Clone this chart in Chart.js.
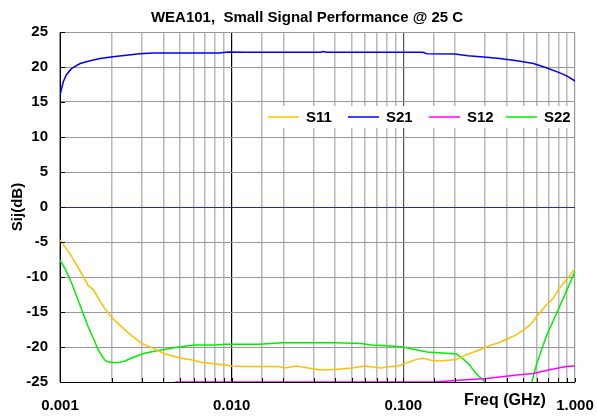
<!DOCTYPE html>
<html>
<head>
<meta charset="utf-8">
<script src="https://cdn.jsdelivr.net/npm/chart.js@4.4.1/dist/chart.umd.min.js"></script>
<style>
  html, body { margin: 0; padding: 0; background: #ffffff; }
  #wrap { width: 597px; height: 419px; position: relative; }
</style>
</head>
<body>
<div id="wrap"><canvas id="c" width="597" height="419"></canvas></div>
<script>
// ---- Data ----
const chartTitle = 'WEA101,  Small Signal Performance @ 25 C';
const xTitle = 'Freq (GHz)';
const yTitle = 'Sij(dB)';
const seriesNames = ['S11', 'S21', 'S12', 'S22'];
const seriesColors = ['#FFC000', '#0000FF', '#FF00FF', '#00EE00'];
const xTickLabels = ['0.001', '0.010', '0.100', '1.000'];
const yTicks = [-25, -20, -15, -10, -5, 0, 5, 10, 15, 20, 25];

const s11Freq = [0.001, 0.00107, 0.00117, 0.0013, 0.00146, 0.00156, 0.00167, 0.0018, 0.002, 0.0023, 0.00262, 0.003, 0.0035, 0.0041, 0.0051, 0.006, 0.0067, 0.0087, 0.01, 0.012, 0.0145, 0.0187, 0.0204, 0.0239, 0.028, 0.033, 0.04, 0.05, 0.06, 0.074, 0.085, 0.093, 0.104, 0.118, 0.13, 0.145, 0.163, 0.204, 0.233, 0.279, 0.317, 0.36, 0.4, 0.45, 0.5, 0.55, 0.6, 0.68, 0.75, 0.81, 0.9, 1.0];
const s11Vals = [-4.7, -5.7, -7.1, -9.0, -11.2, -11.8, -13.0, -14.3, -15.8, -17.2, -18.4, -19.5, -20.2, -21.0, -21.6, -21.9, -22.2, -22.5, -22.7, -22.8, -22.8, -22.8, -23.0, -22.7, -23.0, -23.3, -23.2, -23.0, -22.7, -23.0, -22.8, -22.7, -22.3, -21.8, -21.6, -21.9, -22.0, -21.8, -21.1, -20.4, -19.8, -19.4, -18.9, -18.3, -17.6, -16.8, -15.6, -14.0, -13.0, -11.6, -10.3, -8.8];

const s21Freq = [0.001, 0.001045, 0.00109, 0.00117, 0.00131, 0.0015, 0.00171, 0.00209, 0.00292, 0.0035, 0.006, 0.0085, 0.0095, 0.012, 0.02, 0.033, 0.034, 0.036, 0.06, 0.1, 0.13, 0.137, 0.2, 0.238, 0.305, 0.364, 0.46, 0.573, 0.68, 0.81, 0.9, 1.0];
const s21Vals = [16.0, 17.9, 18.9, 19.8, 20.5, 20.9, 21.2, 21.5, 21.9, 22.0, 22.0, 22.0, 22.15, 22.1, 22.1, 22.1, 22.2, 22.1, 22.1, 22.1, 22.1, 21.9, 21.85, 21.6, 21.4, 21.2, 20.9, 20.5, 19.9, 19.2, 18.7, 18.0];

const s12Freq = [0.001, 0.002, 0.0035, 0.0048, 0.01, 0.05, 0.1, 0.15, 0.2, 0.305, 0.46, 0.57, 0.7, 0.89, 1.0];
const s12Vals = [-28.0, -27.0, -25.8, -25.0, -25.0, -25.0, -25.0, -25.0, -24.8, -24.5, -24.0, -23.8, -23.3, -22.8, -22.7];

const s22Freq = [0.001, 0.00107, 0.00117, 0.00134, 0.00146, 0.00158, 0.00167, 0.00175, 0.00183, 0.0019, 0.00204, 0.0022, 0.00239, 0.0026, 0.00273, 0.0031, 0.00374, 0.0049, 0.0061, 0.008, 0.0091, 0.0143, 0.02, 0.03, 0.04, 0.057, 0.065, 0.089, 0.1, 0.109, 0.137, 0.178, 0.204, 0.22, 0.24, 0.265, 0.3, 0.35, 0.45, 0.52, 0.56, 0.6, 0.68, 0.8, 0.9, 1.0];
const s22Vals = [-7.6, -8.8, -10.9, -14.7, -17.1, -19.0, -20.4, -21.2, -21.9, -22.1, -22.2, -22.2, -22.0, -21.6, -21.4, -20.9, -20.5, -20.0, -19.7, -19.7, -19.6, -19.6, -19.4, -19.4, -19.4, -19.5, -19.7, -19.9, -20.0, -20.2, -20.7, -20.9, -21.0, -21.6, -22.4, -23.8, -25.0, -26.5, -27.5, -26.2, -25.0, -22.3, -18.5, -14.6, -11.8, -9.2];

// ---- Build datasets ----
function pts(f, v) { return f.map((x, i) => ({ x: x, y: v[i] })); }
const freqs = [s11Freq, s21Freq, s12Freq, s22Freq];
const vals = [s11Vals, s21Vals, s12Vals, s22Vals];
const datasets = seriesNames.map((n, i) => ({
  label: n,
  data: pts(freqs[i], vals[i]),
  borderColor: seriesColors[i],
  backgroundColor: seriesColors[i],
  borderWidth: 1.5,
  pointRadius: 0,
  tension: 0,
  fill: false
}));

function isDecade(v) {
  const l = Math.log10(v);
  return Math.abs(l - Math.round(l)) < 1e-6;
}

const FONT = '"Liberation Sans", Arial, sans-serif';

const decorPlugin = {
  id: 'decor',
  afterDraw(chart) {
    const ctx = chart.ctx;
    const a = chart.chartArea;
    const xs = chart.scales.x, ys = chart.scales.y;
    ctx.save();
    // inward ticks on bottom axis
    ctx.strokeStyle = '#000';
    ctx.lineWidth = 1;
    xs.ticks.forEach(t => {
      const px = Math.round(xs.getPixelForValue(t.value)) + 0.5;
      ctx.beginPath(); ctx.moveTo(px, a.bottom); ctx.lineTo(px, a.bottom - 4); ctx.stroke();
    });
    // inward ticks on left axis
    ys.ticks.forEach(t => {
      const py = Math.round(ys.getPixelForValue(t.value)) + 0.5;
      ctx.beginPath(); ctx.moveTo(a.left, py); ctx.lineTo(a.left + 5, py); ctx.stroke();
    });
    // title
    ctx.fillStyle = '#000';
    ctx.font = 'bold 15px ' + FONT;
    ctx.textAlign = 'center';
    ctx.textBaseline = 'alphabetic';
    ctx.fillText(chartTitle, 307, 22);
    // y title
    ctx.save();
    ctx.translate(18, 207);
    ctx.rotate(-Math.PI / 2);
    ctx.textBaseline = 'middle';
    ctx.fillText(yTitle, 0, 0);
    ctx.restore();
    // x title
    ctx.font = 'bold 16px ' + FONT;
    ctx.textAlign = 'center';
    ctx.textBaseline = 'middle';
    ctx.fillText(xTitle, 505, 401);
    // legend box inside plot
    const bx = a.right - 310, by = 106, bw = 309, bh = 22;
    ctx.fillStyle = '#fff';
    ctx.fillRect(bx, by, bw, bh);
    const sampleX = [268, 348, 429, 506];
    ctx.font = 'bold 15px ' + FONT;
    ctx.textAlign = 'left';
    ctx.textBaseline = 'middle';
    seriesNames.forEach((n, i) => {
      const sx = sampleX[i];
      ctx.strokeStyle = seriesColors[i];
      ctx.lineWidth = 1.5;
      ctx.beginPath(); ctx.moveTo(sx, 117); ctx.lineTo(sx + 31, 117); ctx.stroke();
      ctx.fillStyle = '#000';
      ctx.fillText(n, sx + 38, 118);
    });
    ctx.restore();
  }
};

new Chart(document.getElementById('c'), {
  type: 'line',
  data: { datasets: datasets },
  options: {
    responsive: false,
    animation: false,
    devicePixelRatio: 1,
    layout: { padding: { left: 0, right: 22, top: 32, bottom: 0 } },
    plugins: {
      legend: { display: false },
      title: { display: false },
      tooltip: { enabled: false }
    },
    scales: {
      x: {
        type: 'logarithmic',
        min: 0.001,
        max: 1,
        afterFit(s) { s.height = 37; s.paddingLeft = 0; s.paddingRight = 0; },
        border: { color: '#000', width: 1 },
        grid: {
          drawTicks: false,
          color(c) {
            const v = c.tick ? c.tick.value : 0;
            if (isDecade(v)) {
              if (Math.abs(v - 0.01) < 1e-9) return '#000000';
              if (Math.abs(v - 0.1) < 1e-9) return '#555555';
              return '#999999';
            }
            return '#B8B8B8';
          },
          lineWidth(c) {
            const v = c.tick ? c.tick.value : 0;
            if (isDecade(v)) return 1.2;
            return 1.5;
          }
        },
        ticks: {
          autoSkip: false,
          maxRotation: 0,
          minRotation: 0,
          padding: 15,
          color: '#000',
          font: { family: FONT, size: 15, weight: 'bold' },
          callback(v) {
            if (!isDecade(v)) return '';
            const idx = Math.round(Math.log10(v)) + 3;
            return xTickLabels[idx] !== undefined ? xTickLabels[idx] : '';
          }
        }
      },
      y: {
        type: 'linear',
        min: -25,
        max: 25,
        afterFit(s) { s.width = 60; s.paddingTop = 0; s.paddingBottom = 0; },
        afterBuildTicks(s) { s.ticks = yTicks.map(v => ({ value: v })); },
        border: { color: '#000', width: 1 },
        grid: {
          drawTicks: false,
          color(c) {
            const v = c.tick ? c.tick.value : 1;
            return v === 0 ? '#2020E0' : '#999999';
          },
          lineWidth: 1
        },
        ticks: {
          padding: 12,
          color: '#000',
          font: { family: FONT, size: 15, weight: 'bold' }
        }
      }
    }
  },
  plugins: [decorPlugin]
});
</script>
</body>
</html>
